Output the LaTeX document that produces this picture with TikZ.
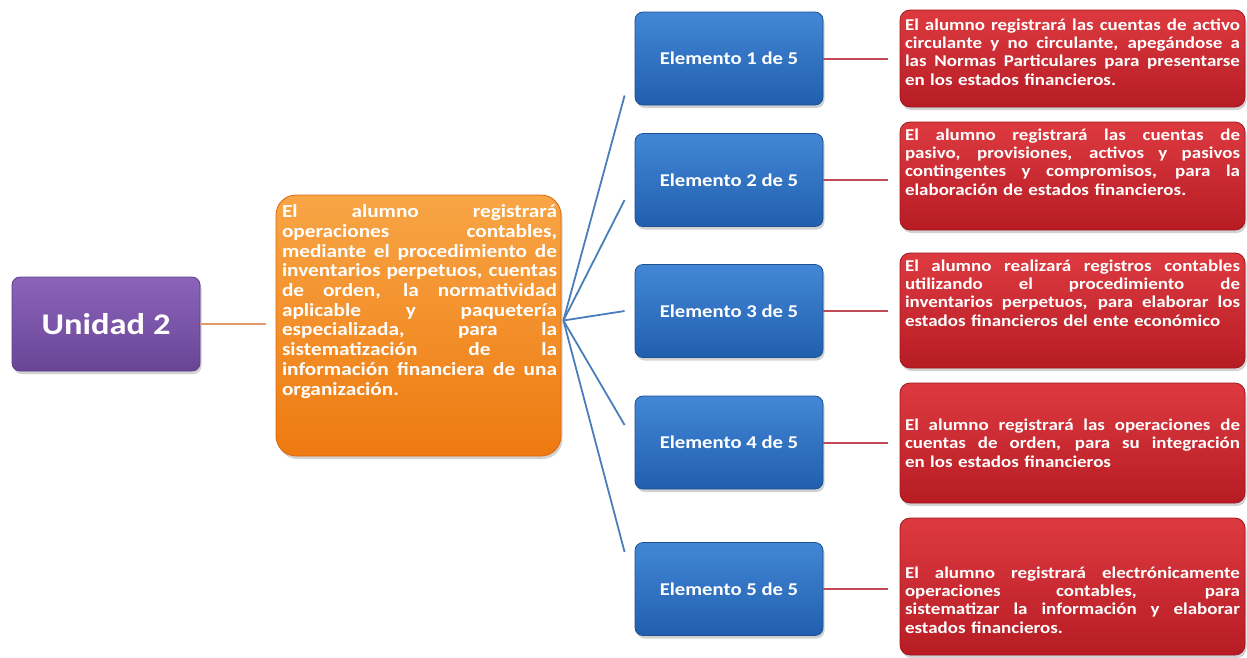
\documentclass[tikz,border=0pt]{standalone}
\usepackage{fontspec}
\setmainfont{Carlito}[FakeStretch=1.15]
\usetikzlibrary{shadows,calc}
\definecolor{uniT}{HTML}{8B64BA}\definecolor{uniB}{HTML}{6A4596}\definecolor{uniD}{HTML}{5E3D88}
\definecolor{orT}{HTML}{F8A546}\definecolor{orB}{HTML}{EE7A10}\definecolor{orD}{HTML}{D9690C}
\definecolor{blT}{HTML}{4287D6}\definecolor{blB}{HTML}{215FAE}\definecolor{blD}{HTML}{1D5191}
\definecolor{rdT}{HTML}{DD3A40}\definecolor{rdB}{HTML}{B71C24}\definecolor{rdD}{HTML}{9E161D}
\definecolor{olin}{HTML}{E39A6B}\definecolor{blin}{HTML}{4A7EBB}\definecolor{rlin}{HTML}{BE4B55}
\newdimen\jw
\newcommand\jl[1]{\noindent{\spaceskip=0.26em plus 40em minus 0.06em\xspaceskip=\spaceskip\hbox to \jw{#1}}\par}
\newcommand\lastl[1]{\noindent #1\par}
\newcommand\tightls{\lineskiplimit=-30pt\relax}
\newcommand\ofont{\bfseries\fontsize{18.5}{19.7}\selectfont\tightls\jw=275pt\relax}
\newcommand\rfont{\bfseries\fontsize{16.5}{18.3}\selectfont\tightls\jw=335pt\relax}
\tikzset{
  box/.style={rectangle, draw, line width=0.8pt, text=white,
    drop shadow={shadow xshift=1.5pt, shadow yshift=-3pt, opacity=0.35}},
  unibox/.style={box, rounded corners=8pt, top color=uniT, bottom color=uniB, draw=uniD,
    minimum width=188pt, minimum height=94pt, font=\bfseries\fontsize{30}{36}\selectfont},
  orbox/.style={box, rounded corners=20pt, top color=orT, bottom color=orB, draw=orD,
    minimum width=285pt, minimum height=261pt},
  blbox/.style={box, rounded corners=8pt, top color=blT, bottom color=blB, draw=blD,
    minimum width=188pt, minimum height=93pt, font=\bfseries\fontsize{18}{22}\selectfont},
  rdbox/.style={box, rounded corners=10pt, top color=rdT, bottom color=rdB, draw=rdD,
    minimum width=345pt},
  otext/.style={inner sep=0pt, text width=275pt, text=white, font=\ofont},
  rtext/.style={inner sep=0pt, text width=335pt, text=white, font=\rfont},
  oline/.style={draw=olin, line width=1.6pt},
  bline/.style={draw=blin, line width=1.8pt},
  rline/.style={draw=rlin, line width=2pt},
}
\begin{document}
\begin{tikzpicture}[x=1pt, y=-1pt]
\useasboundingbox[fill=white] (0,0) rectangle (1247,657);

\node[unibox] (u) at (106,324) {Unidad 2};
\node[orbox] (o) at (418.5,325.5) {};
\node[otext] (ot) at (419.5,301.5) {%
\jl{El alumno registrará}
\jl{operaciones contables,}
\jl{mediante el procedimiento de}
\jl{inventarios perpetuos, cuentas}
\jl{de orden, la normatividad}
\jl{aplicable y paquetería}
\jl{especializada, para la}
\jl{sistematización de la}
\jl{información financiera de una}
\lastl{organización.}};

\node[blbox] (b1) at (729,58.5) {Elemento 1 de 5};
\node[blbox] (b2) at (729,180) {Elemento 2 de 5};
\node[blbox] (b3) at (729,311) {Elemento 3 de 5};
\node[blbox] (b4) at (729,442.5) {Elemento 4 de 5};
\node[blbox] (b5) at (729,589) {Elemento 5 de 5};

\node[rdbox, minimum height=97pt] (r1) at (1072.5,58.5) {};
\node[rdbox, minimum height=108pt] (r2) at (1072.5,176) {};
\node[rdbox, minimum height=115pt] (r3) at (1072.5,310.5) {};
\node[rdbox, minimum height=120pt] (r4) at (1072.5,443) {};
\node[rdbox, minimum height=137pt] (r5) at (1072.5,586.5) {};

\node[rtext] (r1t) at (1072.5,52) {%
\jl{El alumno registrará las cuentas de activo}
\jl{circulante y no circulante, apegándose a}
\jl{las Normas Particulares para presentarse}
\lastl{en los estados financieros.}};
\node[rtext] (r2t) at (1072.5,162) {%
\jl{El alumno registrará las cuentas de}
\jl{pasivo, provisiones, activos y pasivos}
\jl{contingentes y compromisos, para la}
\lastl{elaboración de estados financieros.}};
\node[rtext] (r3t) at (1072.5,293) {%
\jl{El alumno realizará registros contables}
\jl{utilizando el procedimiento de}
\jl{inventarios perpetuos, para elaborar los}
\lastl{estados financieros del ente económico}};
\node[rtext] (r4t) at (1072.5,443) {%
\jl{El alumno registrará las operaciones de}
\jl{cuentas de orden, para su integración}
\lastl{en los estados financieros}};
\node[rtext] (r5t) at (1072.5,600) {%
\jl{El alumno registrará electrónicamente}
\jl{operaciones contables, para}
\jl{sistematizar la información y elaborar}
\lastl{estados financieros.}};

% connectors
\draw[oline, shorten >=10pt] (u.east) -- (u.east -| o.west);
\coordinate (hub) at ($(o.east)+(2,-5)$);
\draw[bline] (hub) -- ($(b1.west)+(-10,37)$);
\draw[bline] (hub) -- ($(b2.west)+(-10,20)$);
\draw[bline] (hub) -- ($(b3.west)+(-10,0)$);
\draw[bline] (hub) -- ($(b4.west)+(-10,-17.5)$);
\draw[bline] (hub) -- ($(b5.west)+(-10,-37)$);
\foreach \i in {1,...,5}{
  \draw[rline, shorten >=12pt] (b\i.east) -- (b\i.east -| r\i.west);
}
\end{tikzpicture}
\end{document}
